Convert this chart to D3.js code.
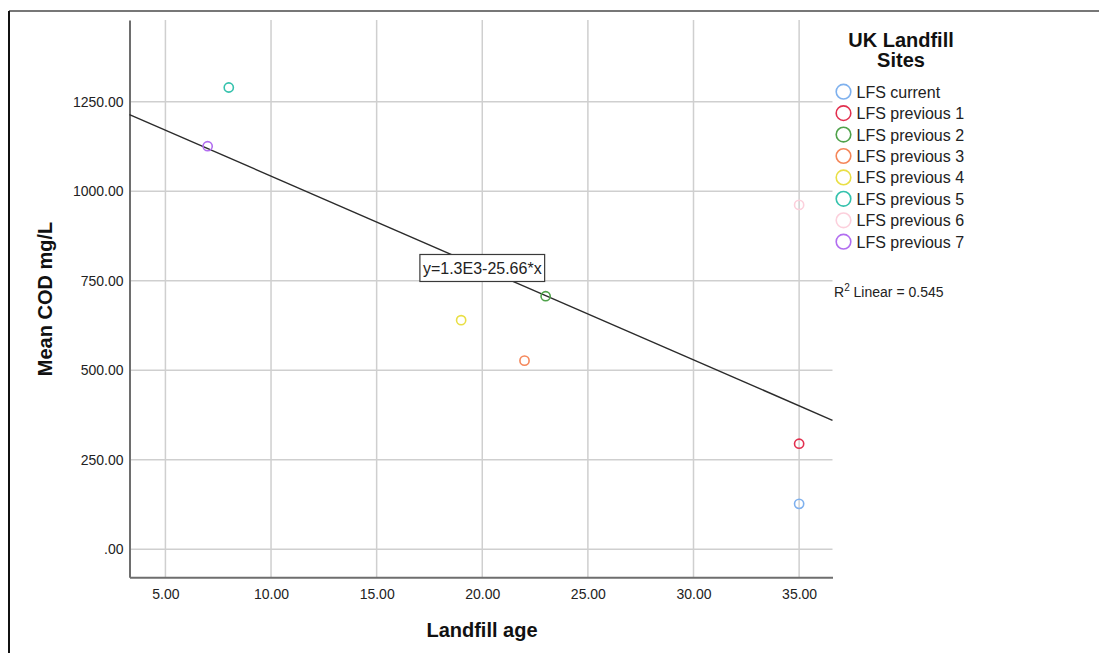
<!DOCTYPE html>
<html>
<head>
<meta charset="utf-8">
<script src="https://cdn.jsdelivr.net/npm/d3@7/dist/d3.min.js"></script>
<style>
  html, body { margin: 0; padding: 0; background: #fff; }
  svg { display: block; font-family: "Liberation Sans", Arial, sans-serif; }
</style>
</head>
<body>
<svg id="chart" width="1099" height="653"></svg>
<script>
// Landfill sites: age (years) vs mean COD (mg/L)
const sites = ["LFS current", "LFS previous 1", "LFS previous 2", "LFS previous 3",
               "LFS previous 4", "LFS previous 5", "LFS previous 6", "LFS previous 7"];
const landfillAge = [35, 35, 23, 22, 19, 8, 35, 7];
const meanCOD = [127, 295, 707, 527, 640, 1290, 962, 1126];
const siteColors = ["#7fb1ee", "#e2304f", "#4fa24a", "#f5875a", "#e9df45", "#35c2ad", "#fcd0dc", "#b26ef0"];

const xTicks = [5, 10, 15, 20, 25, 30, 35];
const yTicks = [0, 250, 500, 750, 1000, 1250];

// Fit line (linear) reported on the chart
const fitIntercept = 1299;
const fitSlope = -25.66;
const rSquared = 0.545;
const fitLabelAt = 20;

const svg = d3.select("#chart");

const plot = { left: 129.5, right: 832.5, top: 20, bottom: 577.3 };

const x = d3.scaleLinear().domain([3.3, 36.58]).range([plot.left, plot.right]);
const y = d3.scaleLinear().domain([-78.2, 1478.5]).range([plot.bottom, plot.top]);

// outer frame (top and left edges)
svg.append("line").attr("x1", 9).attr("x2", 1099).attr("y1", 11).attr("y2", 11)
  .attr("stroke", "#4a4a4a").attr("stroke-width", 1.6);
svg.append("line").attr("x1", 9).attr("x2", 9).attr("y1", 11).attr("y2", 653)
  .attr("stroke", "#111").attr("stroke-width", 2);

// gridlines
const grid = svg.append("g");
grid.selectAll("line.gx").data(xTicks).join("line")
  .attr("class", "gx")
  .attr("x1", d => x(d)).attr("x2", d => x(d))
  .attr("y1", plot.top).attr("y2", plot.bottom)
  .attr("stroke", "#cfcfcf").attr("stroke-width", 1.5);
grid.selectAll("line.gy").data(yTicks).join("line")
  .attr("class", "gy")
  .attr("x1", plot.left).attr("x2", plot.right)
  .attr("y1", d => y(d)).attr("y2", d => y(d))
  .attr("stroke", "#cfcfcf").attr("stroke-width", 1.5);

// axes
const fmt = d => d === 0 ? ".00" : d3.format(".2f")(d);
const xAxis = d3.axisBottom(x).tickValues(xTicks).tickSize(0).tickPadding(12).tickFormat(fmt);
const yAxis = d3.axisLeft(y).tickValues(yTicks).tickSize(0).tickPadding(6).tickFormat(fmt);

const gx = svg.append("g").attr("transform", `translate(0,${plot.bottom})`).call(xAxis);
const gy = svg.append("g").attr("transform", `translate(${plot.left},0)`).call(yAxis);
[gx, gy].forEach(g => {
  g.select(".domain").attr("stroke", "#6e6e6e").attr("stroke-width", 2);
  g.selectAll("text").attr("font-family", "Liberation Sans, Arial, sans-serif")
    .attr("font-size", 14).attr("fill", "#222");
});

// axis titles
svg.append("text").attr("x", 482).attr("y", 637)
  .attr("text-anchor", "middle").attr("font-size", 20).attr("font-weight", "bold")
  .attr("fill", "#111").text("Landfill age");
svg.append("text")
  .attr("transform", "translate(52,299) rotate(-90)")
  .attr("text-anchor", "middle").attr("font-size", 20).attr("font-weight", "bold")
  .attr("fill", "#111").text("Mean COD mg/L");

// fit line across the plot
const fit = v => fitIntercept + fitSlope * v;
const xd = x.domain();
svg.append("line")
  .attr("x1", x(xd[0])).attr("y1", y(fit(xd[0])))
  .attr("x2", x(xd[1])).attr("y2", y(fit(xd[1])))
  .attr("stroke", "#2b2b2b").attr("stroke-width", 1.4);

// points
svg.append("g").selectAll("circle").data(sites).join("circle")
  .attr("cx", (d, i) => x(landfillAge[i]))
  .attr("cy", (d, i) => y(meanCOD[i]))
  .attr("r", 4.6)
  .attr("fill", "none")
  .attr("stroke", (d, i) => siteColors[i])
  .attr("stroke-width", 1.6);

// equation label on the fit line
const eqText = `y=${(fitIntercept / 1000).toFixed(1)}E3${fitSlope.toFixed(2)}*x`;
const eqG = svg.append("g").attr("transform", `translate(${x(fitLabelAt)},${y(fit(fitLabelAt))})`);
const eqT = eqG.append("text").attr("text-anchor", "middle").attr("y", 6)
  .attr("font-size", 16).attr("fill", "#222").text(eqText);
const bb = eqT.node().getBBox();
eqG.insert("rect", "text")
  .attr("x", bb.x - 3).attr("y", -13.5).attr("width", bb.width + 6).attr("height", 27)
  .attr("fill", "#fff").attr("stroke", "#3a3a3a").attr("stroke-width", 1.2);

// legend
const lg = svg.append("g");
lg.append("text").attr("x", 901).attr("y", 47).attr("text-anchor", "middle")
  .attr("font-size", 20).attr("font-weight", "bold").attr("fill", "#111").text("UK Landfill");
lg.append("text").attr("x", 901).attr("y", 67).attr("text-anchor", "middle")
  .attr("font-size", 20).attr("font-weight", "bold").attr("fill", "#111").text("Sites");
const items = lg.selectAll("g.item").data(sites).join("g")
  .attr("class", "item")
  .attr("transform", (d, i) => `translate(843.5,${91.7 + i * 21.43})`);
items.append("circle").attr("r", 7.3).attr("fill", "none")
  .attr("stroke", (d, i) => siteColors[i]).attr("stroke-width", 1.6);
items.append("text").attr("x", 13).attr("y", 6).attr("font-size", 16)
  .attr("fill", "#222").text(d => d);

const r2 = lg.append("text").attr("x", 834).attr("y", 297).attr("font-size", 14).attr("fill", "#222");
r2.append("tspan").text("R");
r2.append("tspan").attr("font-size", 10).attr("dy", -6).text("2");
r2.append("tspan").attr("dy", 6).text(` Linear = ${rSquared.toFixed(3)}`);
</script>
</body>
</html>
